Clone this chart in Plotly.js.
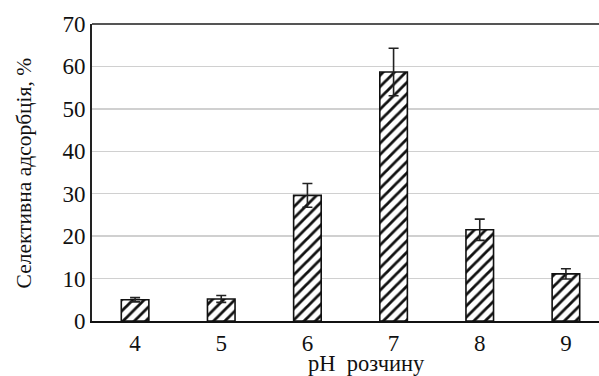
<!DOCTYPE html>
<html>
<head>
<meta charset="utf-8">
<script src="https://cdn.plot.ly/plotly-3.0.1.min.js"></script>
<style>html,body{margin:0;padding:0;overflow:hidden;background:#fff;}#chart{width:609px;height:376px;}</style>
</head>
<body>
<div id="chart"></div>
<script>
const categories = ["4", "5", "6", "7", "8", "9"];
const values = [5.0, 5.2, 29.6, 58.7, 21.5, 11.1];
const errors = [0.5, 0.8, 2.8, 5.6, 2.5, 1.2];
const yTicks = [0, 10, 20, 30, 40, 50, 60, 70];
const xTitle = "pH  розчину";
const yTitle = "Селективна адсорбція, %";

const serif = "'Liberation Serif', 'Times New Roman', serif";

const trace = {
  type: "bar",
  x: categories,
  y: values,
  error_y: {type: "data", array: errors, visible: true, color: "#222", thickness: 1.6, width: 5},
  marker: {
    color: "#fff",
    line: {color: "#111", width: 1.6},
    pattern: {shape: "/", fgcolor: "#111", bgcolor: "#fff", size: 8, solidity: 0.35}
  },
  hoverinfo: "skip"
};

const layout = {
  width: 609, height: 376,
  margin: {l: 92, r: 0, t: 24, b: 55},
  paper_bgcolor: "#fff", plot_bgcolor: "#fff",
  bargap: 0.68,
  showlegend: false,
  font: {family: serif, color: "#111", size: 23},
  xaxis: {
    type: "category",
    showline: true, linecolor: "#111", linewidth: 2,
    ticks: "", showgrid: false,
    tickfont: {family: serif, size: 23, color: "#111"}
  },
  yaxis: {
    range: [0, 70], tickvals: yTicks, ticktext: yTicks.map(String),
    showline: true, linecolor: "#222", linewidth: 2,
    showgrid: true, gridcolor: "#d0d0d0", gridwidth: 1.5,
    zeroline: false, ticks: "",
    tickfont: {family: serif, size: 23, color: "#111"}
  },
  annotations: [
    {text: xTitle, xref: "paper", yref: "paper", x: 0.531, y: -0.142, xanchor: "center", yanchor: "middle",
     showarrow: false, font: {family: serif, size: 22.5, color: "#111"}},
    {text: yTitle, xref: "paper", yref: "paper", x: -0.1315, y: 0.497, xanchor: "center", yanchor: "middle",
     textangle: -90, showarrow: false, font: {family: serif, size: 21.5, color: "#111"}}
  ],
  shapes: [{type: "line", xref: "paper", yref: "paper", x0: 0, x1: 1, y0: 1, y1: 1, line: {color: "#555", width: 2}}]
};

Plotly.newPlot("chart", [trace], layout, {staticPlot: true, displayModeBar: false});
</script>
</body>
</html>
